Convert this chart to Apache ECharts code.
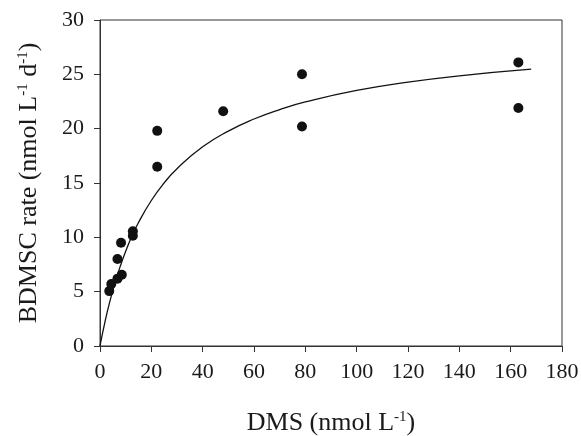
<!DOCTYPE html>
<html>
<head>
<meta charset="utf-8">
<script src="https://cdn.jsdelivr.net/npm/echarts@6/dist/echarts.min.js"></script>
<style>
  html, body { margin: 0; padding: 0; background: #fff; }
  #chart { width: 581px; height: 436px; }
</style>
</head>
<body>
<div id="chart"></div>
<script>
  // measured points (DMS, BDMSC rate)
  var dmsObs = [3.6, 4.4, 6.8, 8.5, 6.8, 8.2, 12.8, 12.8, 22.3, 22.3, 48, 78.7, 78.7, 163, 163]
  var rateObs = [5.05, 5.7, 6.2, 6.55, 8.0, 9.5, 10.15, 10.55, 16.5, 19.8, 21.6, 20.2, 25.0, 21.9, 26.1]

  // fitted curve
  var curveX = [0, 2, 4, 6, 8, 10, 12, 15, 20, 25, 30, 40, 50, 60, 70, 80, 100, 120, 140, 168]
  var curveY = [0, 2.29, 4.25, 5.94, 7.41, 8.71, 9.86, 11.36, 13.39, 15.01, 16.32, 18.33, 19.78, 20.89, 21.76, 22.46, 23.52, 24.28, 24.86, 25.47]

  var fontFam = '"Liberation Serif", "DejaVu Serif", serif'
  var axisColor = '#333'
  var textColor = '#1a1a1a'

  var supStyle = { fontFamily: fontFam, fontSize: 15, color: textColor, verticalAlign: 'top', lineHeight: 14, padding: [0, 0, 12, 0] }

  var myChart = echarts.init(document.getElementById('chart'))

  var option = {
    animation: false,
    grid: {
      left: 100,
      right: 19,
      top: 20,
      bottom: 90,
      outerBoundsMode: 'none',
      containLabel: false,
      show: true,
      borderColor: axisColor,
      borderWidth: 1
    },
    xAxis: {
      type: 'value',
      min: 0,
      max: 180,
      interval: 20,
      name: 'DMS (nmol L{sup|-1})',
      nameLocation: 'middle',
      nameGap: 64,
      nameTextStyle: {
        fontFamily: fontFam,
        fontSize: 26,
        color: textColor,
        rich: { sup: supStyle }
      },
      axisLine: { show: true, lineStyle: { color: axisColor, width: 1 } },
      axisTick: { show: true, inside: false, length: 6, lineStyle: { color: axisColor } },
      axisLabel: { fontFamily: fontFam, fontSize: 22, color: textColor, margin: 15 },
      splitLine: { show: false }
    },
    yAxis: {
      type: 'value',
      min: 0,
      max: 30,
      interval: 5,
      name: 'BDMSC rate (nmol L{sup|-1} d{sup|-1})',
      nameLocation: 'middle',
      nameGap: 58,
      nameRotate: 90,
      nameTextStyle: {
        fontFamily: fontFam,
        fontSize: 26,
        color: textColor,
        rich: { sup: supStyle }
      },
      axisLine: { show: true, lineStyle: { color: axisColor, width: 1 } },
      axisTick: { show: true, inside: false, length: 6, lineStyle: { color: axisColor } },
      axisLabel: { fontFamily: fontFam, fontSize: 22, color: textColor, margin: 16 },
      splitLine: { show: false }
    },
    series: [{
      type: 'line',
      data: curveX.map(function (x, i) { return [x, curveY[i]] }),
      smooth: true,
      showSymbol: false,
      lineStyle: { color: '#111', width: 1.3 },
      z: 2
    }, {
      type: 'scatter',
      data: dmsObs.map(function (x, i) { return [x, rateObs[i]] }),
      symbol: 'circle',
      symbolSize: 10,
      itemStyle: { color: '#111', opacity: 1 },
      z: 3
    }]
  }

  myChart.setOption(option)
</script>
</body>
</html>
